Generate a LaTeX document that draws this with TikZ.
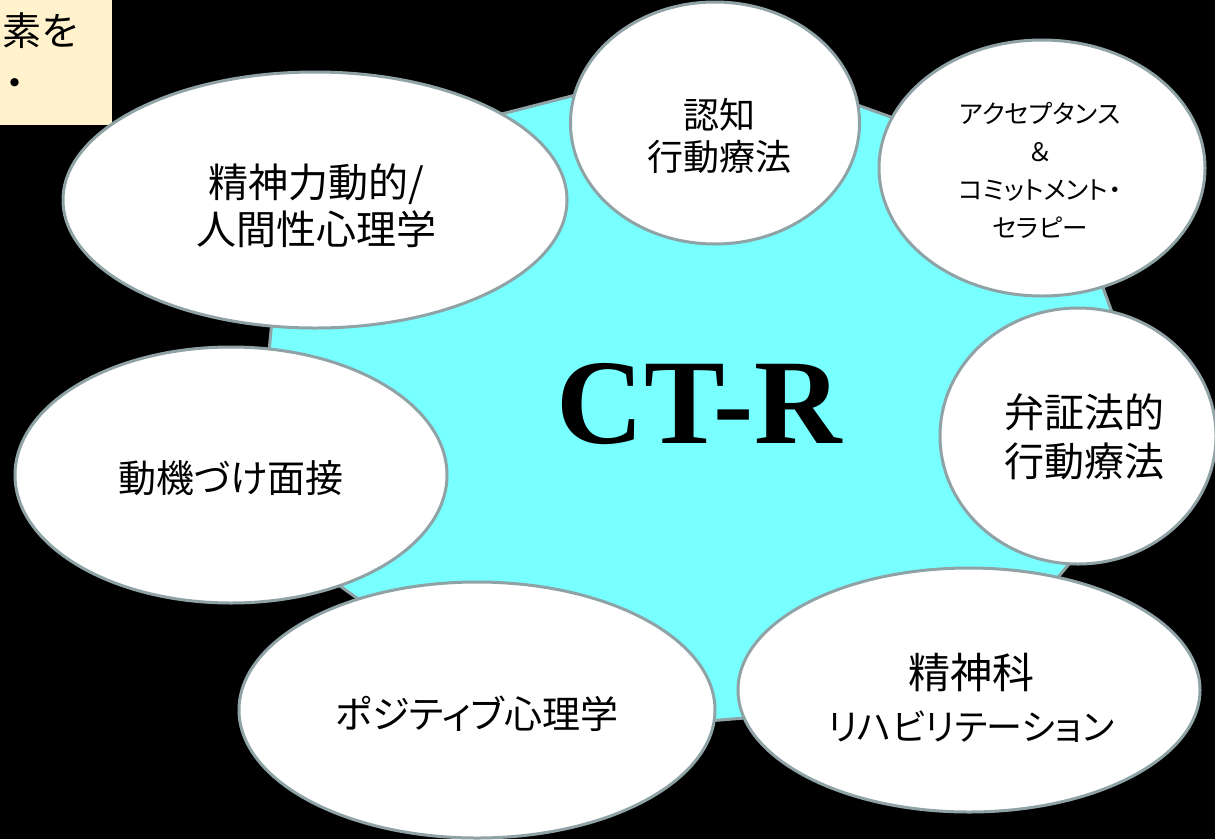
\documentclass[tikz,border=0pt]{standalone}
\usepackage{fontspec}
\setmainfont{Liberation Serif}
\newfontfamily\jp[RawFeature=+palt]{Noto Sans CJK JP}
\usetikzlibrary{shapes.geometric}
\definecolor{bord}{RGB}{143,163,166}
\definecolor{cyanfill}{RGB}{120,255,255}
\definecolor{notey}{RGB}{255,242,204}
\begin{document}
\begin{tikzpicture}[x=1pt,y=-1pt,
  bub/.style={ellipse, draw=bord, line width=3pt, fill=white, inner sep=0pt},
  lab/.style={align=center, text=black, inner sep=0pt},
  fs/.style 2 args={font=\jp\fontsize{#1}{#2}\selectfont}]
\useasboundingbox (0,0) rectangle (1215,839);
\fill[black] (0,0) rectangle (1215,839);
% note box
\node[fill=notey, minimum width=112pt, minimum height=125pt, anchor=north west, inner sep=0pt] (note) at (0,0) {};
\node[lab, fs={39}{48}, anchor=east] (n1) at (78,31) {素を};
\node[lab, fs={39}{48}] (n2) at (15,88) {・};
% heptagon
\draw[fill=cyanfill, draw=bord, line width=3pt, line join=miter]
  (724,57) -- (1063,179) -- (1163,451) -- (955,701) -- (547,734) -- (252,523) -- (287,169) -- cycle;
\node[font=\bfseries\fontsize{121}{121}\selectfont, inner sep=0pt] (ctr) at (699,404) {CT-R};
% ellipses
\node[bub, minimum width=504pt, minimum height=256pt] (e1) at (315,200) {};
\node[bub, minimum width=432pt, minimum height=256pt] (e7) at (231,475) {};
\node[bub, minimum width=289pt, minimum height=242pt] (e2) at (715,123) {};
\node[bub, minimum width=326pt, minimum height=256pt] (e3) at (1042,168) {};
\node[bub, minimum width=276pt, minimum height=256pt] (e4) at (1078,436) {};
\node[bub, minimum width=462pt, minimum height=244pt] (e5) at (969,690) {};
\node[bub, minimum width=476pt, minimum height=256pt] (e6) at (477,710) {};
% texts
\node[lab, fs={40}{47}] (t1) at (316,206) {精神力動的/\\人間性心理学};
\node[lab, fs={38}{46}] (t7) at (231,478) {動機づけ面接};
\node[lab, fs={36}{42}] (t2) at (719,136) {認知\\行動療法};
\node[lab, fs={25.5}{38}] (t3) at (1040,170) {アクセプタンス\\＆\\コミットメント・\\セラピー};
\node[lab, fs={40}{49}] (t4) at (1084,437) {弁証法的\\行動療法};
\node[lab, fs={36}{52}] (t5) at (971,698) {{\fontsize{42}{52}\selectfont 精神科}\\リハビリテーション};
\node[lab, fs={38}{46}] (t6) at (477,714) {ポジティブ心理学};
\end{tikzpicture}
\end{document}
